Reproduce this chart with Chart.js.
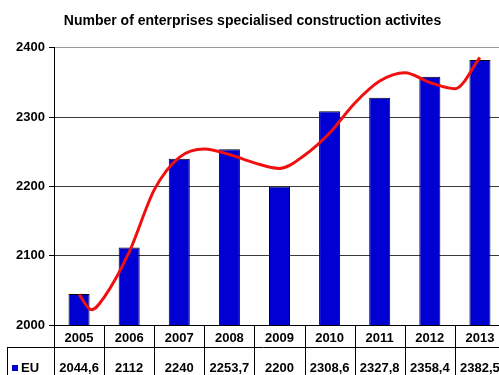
<!DOCTYPE html>
<html>
<head>
<meta charset="utf-8">
<script src="https://cdn.jsdelivr.net/npm/chart.js@4/dist/chart.umd.min.js"></script>
<style>
  html, body { margin: 0; padding: 0; background: #fff; overflow: hidden; }
  #wrap { width: 520px; height: 375px; }
</style>
</head>
<body>
<div id="wrap"><canvas id="chart" width="520" height="375"></canvas></div>
<script>
// --- Data ---
const years = ['2005', '2006', '2007', '2008', '2009', '2010', '2011', '2012', '2013'];
const euValues = [2044.6, 2112, 2240, 2253.7, 2200, 2308.6, 2327.8, 2358.4, 2382.5];
const seriesName = 'EU';
const chartTitle = 'Number of enterprises specialised construction activites';

// red trend curve (x = category index)
const trendX = [0, 0.25, 0.5, 1, 1.5, 2, 2.5, 3, 3.5, 4, 4.5, 5, 5.5, 6, 6.5, 7, 7.5, 8];
const trendY = [2044, 2022, 2040, 2105, 2195, 2242, 2254, 2246, 2234, 2226, 2245, 2277, 2320, 2352, 2364, 2350, 2341, 2386];

const yTicks = [2000, 2100, 2200, 2300, 2400];

// --- Styles ---
const FONT = '"Liberation Sans", Arial, sans-serif';
const BAR_BLUE = '#0000d2';

// --- Data table under the plot ---
const dataTablePlugin = {
  id: 'dataTable',
  afterDraw(chart) {
    const { ctx, chartArea } = chart;
    const xs = chart.scales.x;
    const top = chartArea.bottom;
    const mid = top + 22;
    const bottom = chart.height;
    ctx.save();
    ctx.strokeStyle = '#000';
    ctx.lineWidth = 1;
    ctx.beginPath();
    for (let i = 0; i <= years.length; i++) {
      const px = Math.round(xs.getPixelForValue(i - 0.5)) + 0.5;
      ctx.moveTo(px, top);
      ctx.lineTo(px, bottom);
    }
    // first column left border and row separator
    ctx.moveTo(7.5, mid);
    ctx.lineTo(7.5, bottom);
    ctx.moveTo(7, mid + 0.5);
    ctx.lineTo(chart.width, mid + 0.5);
    ctx.stroke();

    ctx.fillStyle = '#000';
    ctx.font = 'bold 13px ' + FONT;
    ctx.textAlign = 'center';
    ctx.textBaseline = 'middle';
    years.forEach((yr, i) => {
      const px = xs.getPixelForValue(i);
      ctx.fillText(yr, px, top + 13);
      ctx.fillText(String(euValues[i]).replace('.', ','), px, mid + 21);
    });

    // legend key
    ctx.fillStyle = BAR_BLUE;
    ctx.fillRect(12, mid + 18, 6, 6);
    ctx.fillStyle = '#000';
    ctx.textAlign = 'left';
    ctx.fillText(seriesName, 21, mid + 21);
    ctx.restore();
  }
};

const ctx = document.getElementById('chart').getContext('2d');
new Chart(ctx, {
  type: 'bar',
  data: {
    labels: years,
    datasets: [
      {
        type: 'line',
        label: 'trend',
        data: trendX.map((x, i) => ({ x: x, y: trendY[i] })),
        xAxisID: 'x2',
        borderColor: '#f01010',
        borderWidth: 3,
        pointRadius: 0,
        tension: 0.4,
        cubicInterpolationMode: 'monotone',
        fill: false,
        order: 0
      },
      {
        type: 'bar',
        label: seriesName,
        data: euValues,
        xAxisID: 'x',
        grouped: false,
        backgroundColor: BAR_BLUE,
        borderColor: '#000',
        borderWidth: 1,
        barPercentage: 0.42,
        categoryPercentage: 1,
        order: 1
      }
    ]
  },
  options: {
    responsive: false,
    devicePixelRatio: 1,
    animation: false,
    layout: { padding: { left: 0, right: 15, top: 0, bottom: 0 } },
    plugins: {
      legend: { display: false },
      tooltip: { enabled: false },
      title: {
        display: true,
        text: chartTitle,
        color: '#000',
        font: { family: FONT, size: 14, weight: 'bold' },
        padding: { top: 13, bottom: 18 }
      }
    },
    scales: {
      x: {
        type: 'category',
        offset: true,
        grid: { display: false },
        ticks: { display: false },
        border: { display: true, color: '#000', width: 1 },
        afterFit: (scale) => { scale.height = 50; }
      },
      x2: {
        type: 'linear',
        display: false,
        offset: false,
        grid: { offset: false },
        min: -0.5,
        max: 8.5
      },
      y: {
        min: 2000,
        max: 2400,
        afterBuildTicks: (scale) => { scale.ticks = yTicks.map(v => ({ value: v })); },
        afterFit: (scale) => { scale.width = 54; },
        grid: {
          color: (c) => c.tick && c.tick.value === 2400 ? '#9a9a9a' : '#3a3a3a',
          tickColor: '#000',
          tickLength: 5,
          lineWidth: 1
        },
        border: { display: true, color: '#000', width: 1 },
        ticks: {
          color: '#000',
          padding: 4,
          font: { family: FONT, size: 13, weight: 'bold' },
          callback: (v) => String(v)
        }
      }
    }
  },
  plugins: [dataTablePlugin]
});
</script>
</body>
</html>
